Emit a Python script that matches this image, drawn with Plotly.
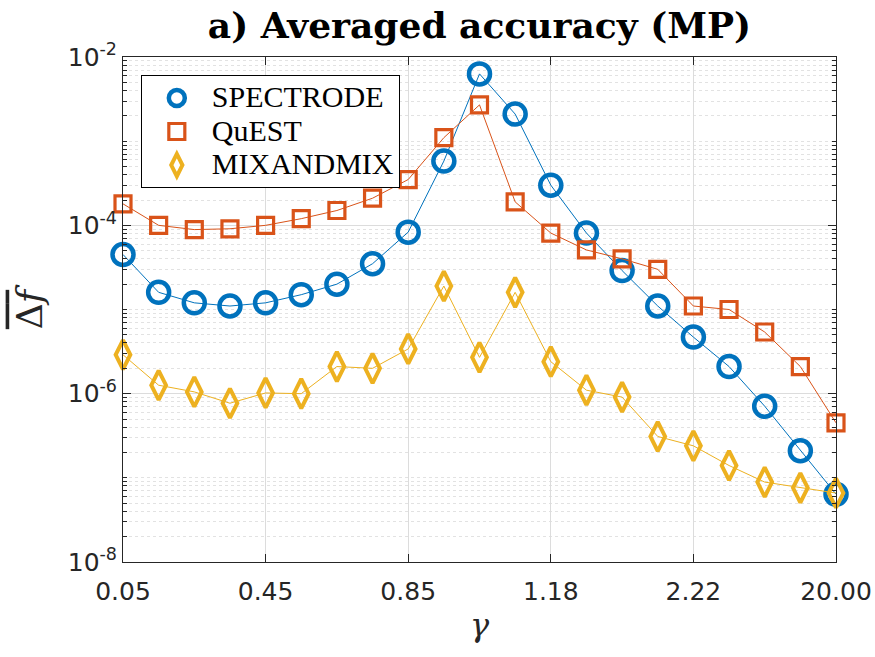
import plotly.graph_objects as go

x_idx = list(range(1, 22))
x_tick_pos = [1, 5, 9, 13, 17, 21]
x_tick_labels = ["0.05", "0.45", "0.85", "1.18", "2.22", "20.00"]

spectrode = [4.5e-5, 1.6e-5, 1.2e-5, 1.1e-5, 1.2e-5, 1.5e-5, 2.0e-5, 3.5e-5, 8.3e-5,
             5.8e-4, 6.3e-3, 2.1e-3, 3.0e-4, 8.1e-5, 2.9e-5, 1.1e-5, 4.7e-6, 2.1e-6,
             7.1e-7, 2.1e-7, 6.4e-8]
quest = [1.8e-4, 1.0e-4, 8.9e-5, 9.1e-5, 1.0e-4, 1.2e-4, 1.5e-4, 2.1e-4, 3.5e-4,
         1.1e-3, 2.7e-3, 1.9e-4, 8.1e-5, 5.1e-5, 4.0e-5, 3.0e-5, 1.1e-5, 1.0e-5,
         5.4e-6, 2.1e-6, 4.5e-7]
mixandmix = [2.9e-6, 1.26e-6, 1.05e-6, 7.7e-7, 1.02e-6, 1.0e-6, 2.1e-6, 2.0e-6, 3.4e-6,
             1.9e-5, 2.7e-6, 1.6e-5, 2.4e-6, 1.1e-6, 9.1e-7, 3.1e-7, 2.4e-7, 1.4e-7,
             8.9e-8, 7.6e-8, 6.6e-8]

y_tick_vals = [1e-8, 1e-6, 1e-4, 1e-2]
y_tick_text = ["10<sup>-8</sup>", "10<sup>-6</sup>", "10<sup>-4</sup>", "10<sup>-2</sup>"]
y_minor_vals = [m * 10.0 ** k for k in range(-8, -2) for m in range(2, 11)
                if not (m == 10 and k % 2 == 1)]

series = [
    ("SPECTRODE", spectrode, "#0072BD", "circle-open", 21, 4.5),
    ("QuEST", quest, "#D95319", "square-open", 16, 3.2),
    ("MIXANDMIX", mixandmix, "#EDB120", "diamond-tall-open", 21, 4),
]

fig = go.Figure()
for name, vals, col, sym, sz, lw in series:
    fig.add_trace(go.Scatter(
        x=x_idx, y=vals, mode="lines+markers", name=name, showlegend=False,
        line=dict(color=col, width=1),
        marker=dict(symbol=sym, size=sz, color=col, line=dict(color=col, width=lw)),
        cliponaxis=False,
    ))
for name, vals, col, sym, sz, lw in series:
    fig.add_trace(go.Scatter(
        x=[None], y=[None], mode="markers",
        name='<span style="font-size:30px">' + name + '</span>',
        marker=dict(symbol=sym, size=sz, color=col, line=dict(color=col, width=lw)),
    ))

axis_col = "#262626"
fig.update_layout(
    width=875, height=657,
    margin=dict(l=123, r=39, t=57, b=95),
    plot_bgcolor="white", paper_bgcolor="white",
    title=dict(text="<b>a) Averaged accuracy (MP)</b>", x=0.5, xref="paper",
               y=0.962, yref="container", yanchor="middle",
               font=dict(family="DejaVu Serif", size=36, color="black")),
    showlegend=True,
    legend=dict(x=0.025, y=0.964, xanchor="left", yanchor="top",
                bordercolor="black", borderwidth=1, bgcolor="white",
                font=dict(family="Liberation Serif", size=23.5, color="black"),
                itemsizing="trace", itemwidth=60),
    xaxis=dict(
        range=[1, 21], tickmode="array", tickvals=x_tick_pos, ticktext=x_tick_labels,
        ticks="inside", ticklen=8, tickcolor=axis_col, showline=True, linecolor=axis_col,
        linewidth=1, mirror="allticks", showgrid=True, gridcolor="#dcdcdc", gridwidth=1,
        zeroline=False, automargin=False, ticklabelstandoff=7,
        tickfont=dict(family="DejaVu Sans", size=25, color=axis_col),
        title=dict(text="<i>γ</i>", font=dict(family="DejaVu Serif", size=32, color=axis_col),
                   standoff=8),
    ),
    yaxis=dict(
        type="log", range=[-8, -2], tickmode="array", tickvals=y_tick_vals,
        ticktext=y_tick_text, ticks="inside", ticklen=8, tickcolor=axis_col,
        showline=True, linecolor=axis_col, linewidth=1, mirror="allticks",
        showgrid=True, gridcolor="#dcdcdc", gridwidth=1, zeroline=False, automargin=False,
        tickfont=dict(family="DejaVu Sans", size=25, color=axis_col),
        minor=dict(tickmode="array", tickvals=y_minor_vals, ticks="inside", ticklen=4,
                   tickcolor=axis_col, showgrid=True, gridcolor="#e2e2e2",
                   griddash="dot", gridwidth=1),
        title=dict(text='<span style="text-decoration:overline">Δ<i>f</i></span>',
                   font=dict(family="DejaVu Serif", size=36, color=axis_col),
                   standoff=14),
    ),
)

fig.write_html("out.html")
